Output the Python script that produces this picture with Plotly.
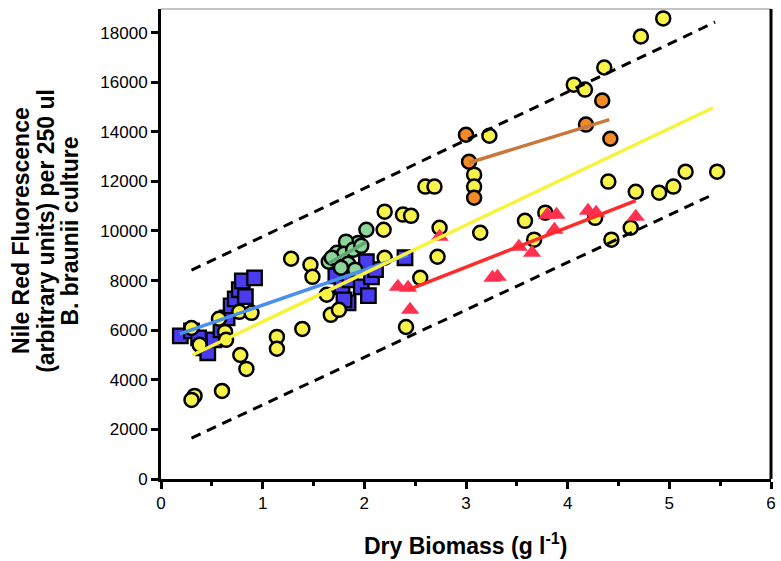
import plotly.graph_objects as go

# ---------------- data ----------------
yellow_x = [1.28, 1.47, 1.49, 0.30, 0.38, 0.57, 0.63, 0.64, 0.77, 0.89, 1.14, 1.14, 1.39, 0.78, 0.84,
            0.33, 0.30, 0.60, 2.60, 2.69, 2.20, 2.38, 2.46, 2.19, 1.63, 1.67, 1.75, 2.20, 2.55, 2.41,
            2.74, 3.14, 2.72, 3.23, 3.08, 3.08, 4.06, 4.17, 4.36, 4.72, 4.94, 4.40, 4.67, 4.90, 5.04,
            5.16, 5.47, 3.58, 3.78, 3.67, 4.27, 4.43, 4.62]
yellow_y = [8880, 8640, 8150, 6090, 5410, 6460, 5930, 5610, 6740, 6700, 5730, 5250, 6050, 5000, 4440,
            3350, 3190, 3550, 11790, 11790, 10780, 10660, 10610, 10050, 7430, 6620, 6820, 8920, 8110, 6130,
            10130, 9930, 8960, 13840, 12270, 11790, 15900, 15700, 16590, 17840, 18570, 11990, 11580, 11540, 11790,
            12390, 12390, 10410, 10740, 9650, 10530, 9650, 10130]

blue_x = [0.19, 0.30, 0.37, 0.42, 0.46, 0.52, 0.59, 0.65, 0.69, 0.73, 0.77, 0.80, 0.92, 0.83,
          1.72, 1.78, 1.84, 1.86, 1.97, 2.04, 2.07, 2.11, 2.02, 2.40, 1.80]
blue_y = [5770, 5970, 5690, 5290, 5090, 5610, 6010, 6500, 6980, 7260, 7630, 7990, 8110, 7350,
          8190, 7750, 7100, 8030, 7750, 7390, 8150, 8440, 8760, 8920, 7220]

green_x = [2.02, 1.94, 1.82, 1.73, 1.65, 1.80, 1.89, 1.97, 1.84, 1.77, 1.91, 1.68]
green_y = [10050, 9520, 9570, 9120, 8760, 9080, 9240, 9400, 8680, 8520, 8440, 8920]

orange_x = [3.00, 3.03, 3.08, 4.34, 4.18, 4.42]
orange_y = [13880, 12790, 11340, 15260, 14290, 13720]

red_x = [2.33, 2.43, 2.45, 2.74, 3.26, 3.31, 3.52, 3.65, 3.80, 3.89, 3.87, 4.20, 4.28, 4.67]
red_y = [7750, 7710, 6820, 9770, 8110, 8150, 9360, 9120, 10650, 10650, 10050, 10820, 10740, 10570]

# regression lines (end points)
fit_yellow_x = [0.31, 5.43]
fit_yellow_y = [5000, 14970]
fit_blue_x = [0.185, 2.43]
fit_blue_y = [5850, 9040]
fit_green_x = [1.65, 2.02]
fit_green_y = [8700, 9550]
fit_orange_x = [3.03, 4.41]
fit_orange_y = [12750, 14490]
fit_red_x = [2.43, 4.67]
fit_red_y = [7630, 11220]
band_upper_x = [0.30, 5.45]
band_upper_y = [8420, 18420]
band_lower_x = [0.30, 5.42]
band_lower_y = [1650, 11450]

x_ticks = [0, 1, 2, 3, 4, 5, 6]
y_ticks = [0, 2000, 4000, 6000, 8000, 10000, 12000, 14000, 16000, 18000]

y_title_lines = ["Nile Red Fluorescence", "(arbitrary units) per 250 ul", "B. braunii culture"]
x_title = "Dry Biomass (g l<sup>-1</sup>)"

FONT = "Liberation Sans, Arial, sans-serif"

fig = go.Figure()


def scatter(x, y, symbol, color, size, lw):
    fig.add_trace(go.Scatter(
        x=x, y=y, mode="markers",
        marker=dict(symbol=symbol, color=color, size=size,
                    line=dict(color="black", width=lw)),
        hoverinfo="skip", cliponaxis=False))


def line(x, y, color, width, dash="solid"):
    fig.add_trace(go.Scatter(x=x, y=y, mode="lines",
                             line=dict(color=color, width=width, dash=dash),
                             hoverinfo="skip"))


scatter(blue_x, blue_y, "square", "#4B3BEE", 14.5, 2.3)
scatter(yellow_x, yellow_y, "circle", "#F8F34A", 14, 2.5)
scatter(green_x, green_y, "circle", "#8CD69A", 14, 2.5)
scatter(orange_x, orange_y, "circle", "#F28A25", 14, 2.5)
scatter(red_x, red_y, "triangle-up", "#FF3050", 16, 0)

line(band_upper_x, band_upper_y, "black", 3, "10px,7px")
line(band_lower_x, band_lower_y, "black", 3, "10px,7px")
line(fit_blue_x, fit_blue_y, "#4A8EEE", 3.5)
line(fit_yellow_x, fit_yellow_y, "#F7F23A", 3.5)
line(fit_green_x, fit_green_y, "#62A877", 3.5)
line(fit_orange_x, fit_orange_y, "#C8783A", 3.5)
line(fit_red_x, fit_red_y, "#FF2A2A", 3.5)

fig.update_layout(
    width=781, height=561,
    margin=dict(l=161, r=5, t=9, b=82),
    plot_bgcolor="white", paper_bgcolor="white",
    showlegend=False,
    font=dict(family=FONT, color="black"),
)

fig.update_xaxes(
    range=[0, 6], tickvals=x_ticks, ticktext=[str(v) for v in x_ticks],
    ticks="outside", ticklen=7, tickwidth=3, tickcolor="black",
    showline=True, linecolor="black", linewidth=3,
    showgrid=False, zeroline=False,
    tickfont=dict(family=FONT, size=17, color="black"),
    minor=dict(dtick=0.5, tick0=0, ticks="outside", ticklen=4, tickwidth=3, tickcolor="black"),
)
fig.update_yaxes(
    range=[0, 18950], tickvals=y_ticks, ticktext=[str(v) for v in y_ticks],
    ticks="outside", ticklen=7, tickwidth=3, tickcolor="black",
    showline=True, linecolor="black", linewidth=3,
    showgrid=False, zeroline=False,
    tickfont=dict(family=FONT, size=17, color="black"),
)

# frame: thin grey top edge, black right edge
fig.add_shape(type="line", xref="paper", yref="paper", x0=0, x1=1, y0=1, y1=1,
              line=dict(color="#888888", width=1))
fig.add_shape(type="line", xref="paper", yref="paper", x0=1, x1=1, y0=0, y1=1,
              line=dict(color="black", width=3))

# y-axis title: three tightly spaced rotated lines
for txt, xp in zip(y_title_lines, [-0.2293, -0.1886, -0.1496]):
    fig.add_annotation(
        text="<b>" + txt + "</b>",
        xref="paper", yref="paper", x=xp, y=0.528, xanchor="center", yanchor="middle",
        textangle=-90, showarrow=False, font=dict(family=FONT, size=23, color="black"))

fig.add_annotation(
    text="<b>" + x_title + "</b>",
    xref="paper", yref="paper", x=0.499, y=-0.138, xanchor="center", yanchor="middle",
    showarrow=False, font=dict(family=FONT, size=23, color="black"))

fig.write_html("out.html")
